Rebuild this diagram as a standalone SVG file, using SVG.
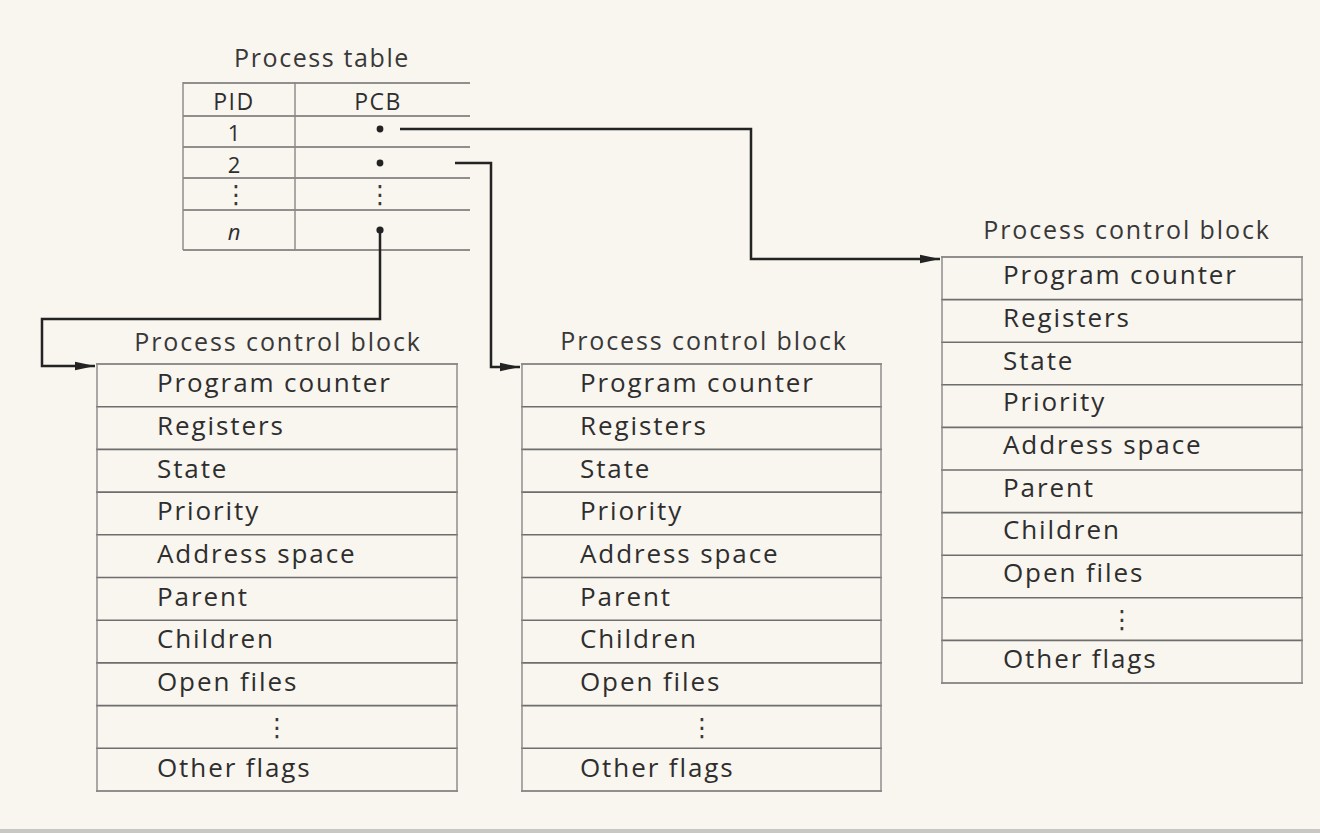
<svg xmlns="http://www.w3.org/2000/svg" width="1320" height="833" viewBox="0 0 1320 833">
<style>
.t{font-family:"Open Sans","Liberation Sans",sans-serif;font-size:26px;fill:#2e2e2e;letter-spacing:1.9px}
.title{font-family:"Open Sans","Liberation Sans",sans-serif;font-size:25px;fill:#383838;letter-spacing:1.9px;text-anchor:middle}
.tb{font-family:"Open Sans","Liberation Sans",sans-serif;font-size:23px;fill:#2e2e2e;text-anchor:middle}
.dots{font-family:"DejaVu Sans",sans-serif;font-size:25px;fill:#3a3a3a;text-anchor:middle}
.h{stroke:#6e6e6e;stroke-width:1.6;fill:none}
.v{stroke:#888;stroke-width:1.4;fill:none}
.conn{stroke:#232323;stroke-width:2.5;fill:none}
.dot{fill:#232323}
</style>
<defs>
<marker id="arr" viewBox="0 0 20 10" refX="20" refY="5" markerWidth="20" markerHeight="10" markerUnits="userSpaceOnUse" orient="auto">
<path d="M0,0.8 L20,5 L0,9.2 Z" fill="#232323"/>
</marker>
</defs>
<rect x="0" y="0" width="1320" height="833" fill="#f9f5ef"/>
<rect x="0" y="829" width="1320" height="4" fill="#c9c7c4"/>

<g id="process-table">
<text class="title" x="322" y="67" style="letter-spacing:1.6px">Process table</text>
<path class="h" d="M183,83 H470 M183,116 H470 M183,147 H470 M183,178 H470 M183,210 H470 M183,250 H470"/>
<path class="v" d="M183,82 V250 M295,82 V250"/>
<text class="tb" x="234" y="110" style="letter-spacing:1.5px">PID</text>
<text class="tb" x="378" y="110" style="letter-spacing:1.5px">PCB</text>
<text class="tb" x="234" y="141" style="font-size:22px">1</text>
<text class="tb" x="234" y="173" style="font-size:22px">2</text>
<text class="dots" x="236" y="203">⋮</text>
<text class="dots" x="380" y="203">⋮</text>
<text class="tb" x="234" y="240" style="font-size:22px;font-style:italic">n</text>
<circle class="dot" cx="380" cy="129" r="3.4"/>
<circle class="dot" cx="380" cy="163" r="3.4"/>
<circle class="dot" cx="380" cy="230" r="3.6"/>
</g>

<g id="connectors">
<path class="conn" d="M400,129 H751 V259 H940" marker-end="url(#arr)"/>
<path class="conn" d="M455,163 H491 V367 H520" marker-end="url(#arr)"/>
<path class="conn" d="M380,230 V319 H42 V366 H95" marker-end="url(#arr)"/>
</g>

<g id="pcb1">
<text class="title" x="278" y="351">Process control block</text>
<path class="h" d="M96,364 H458 M96,406.7 H458 M96,449.4 H458 M96,492.1 H458 M96,534.8 H458 M96,577.5 H458 M96,620.2 H458 M96,662.9 H458 M96,705.6 H458 M96,748.3 H458 M96,791 H458"/>
<path class="v" d="M97,364 V792 M457,364 V792"/>
<text class="t" x="157" y="392">Program counter</text>
<text class="t" x="157" y="435">Registers</text>
<text class="t" x="157" y="478">State</text>
<text class="t" x="157" y="520">Priority</text>
<text class="t" x="157" y="563">Address space</text>
<text class="t" x="157" y="606">Parent</text>
<text class="t" x="157" y="648">Children</text>
<text class="t" x="157" y="691">Open files</text>
<text class="dots" x="277" y="736">⋮</text>
<text class="t" x="157" y="777">Other flags</text>
</g>

<g id="pcb2">
<text class="title" x="704" y="350">Process control block</text>
<path class="h" d="M521,364 H882 M521,406.7 H882 M521,449.4 H882 M521,492.1 H882 M521,534.8 H882 M521,577.5 H882 M521,620.2 H882 M521,662.9 H882 M521,705.6 H882 M521,748.3 H882 M521,791 H882"/>
<path class="v" d="M522,364 V792 M881,364 V792"/>
<text class="t" x="580" y="392">Program counter</text>
<text class="t" x="580" y="435">Registers</text>
<text class="t" x="580" y="478">State</text>
<text class="t" x="580" y="520">Priority</text>
<text class="t" x="580" y="563">Address space</text>
<text class="t" x="580" y="606">Parent</text>
<text class="t" x="580" y="648">Children</text>
<text class="t" x="580" y="691">Open files</text>
<text class="dots" x="702" y="736">⋮</text>
<text class="t" x="580" y="777">Other flags</text>
</g>

<g id="pcb3">
<text class="title" x="1127" y="239">Process control block</text>
<path class="h" d="M941,257 H1303 M941,299.6 H1303 M941,342.2 H1303 M941,384.8 H1303 M941,427.4 H1303 M941,470 H1303 M941,512.6 H1303 M941,555.2 H1303 M941,597.8 H1303 M941,640.4 H1303 M941,683 H1303"/>
<path class="v" d="M942,257 V684 M1302,257 V684"/>
<text class="t" x="1003" y="284">Program counter</text>
<text class="t" x="1003" y="327">Registers</text>
<text class="t" x="1003" y="370">State</text>
<text class="t" x="1003" y="411">Priority</text>
<text class="t" x="1003" y="454">Address space</text>
<text class="t" x="1003" y="497">Parent</text>
<text class="t" x="1003" y="539">Children</text>
<text class="t" x="1003" y="582">Open files</text>
<text class="dots" x="1122" y="628">⋮</text>
<text class="t" x="1003" y="668">Other flags</text>
</g>
</svg>
